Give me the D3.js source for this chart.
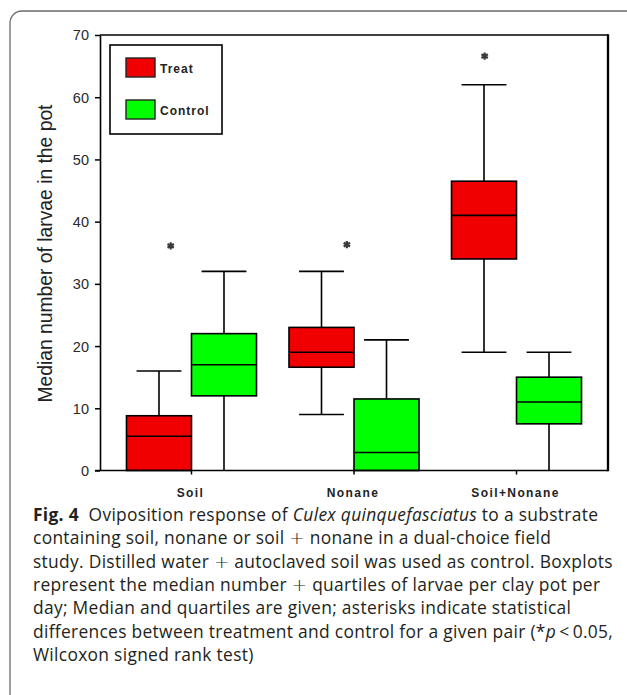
<!DOCTYPE html>
<html>
<head>
<meta charset="utf-8">
<script src="https://cdn.jsdelivr.net/npm/d3@7"></script>
<style>
  html, body { margin: 0; padding: 0; background: #fff; }
  svg { display: block; }
</style>
</head>
<body>
<svg id="chart" width="627" height="695"></svg>
<script>
// ---------- data ----------
const categories = ["Soil", "Nonane", "Soil+Nonane"];
const series = ["Treat", "Control"];
const yTicks = [0, 10, 20, 30, 40, 50, 60, 70];

const treatMin    = [0, 9, 19];
const treatQ1     = [0, 16.6, 34];
const treatMedian = [5.5, 19, 41];
const treatQ3     = [8.8, 23, 46.5];
const treatMax    = [16, 32, 62];

const controlMin    = [0, 0, 0];
const controlQ1     = [12, 0, 7.5];
const controlMedian = [17, 2.9, 11];
const controlQ3     = [22, 11.5, 15];
const controlMax    = [32, 21, 19];

const asteriskValue = [36.1, 36.3, 66.6];

const yTitle = "Median number of larvae in the pot";

// ---------- layout ----------
const W = 627, H = 695;
const plot = { left: 100, right: 608, top: 35, bottom: 470.5 };
const asteriskShift = [-0.32, -0.11, -0.49]; // in box widths from group centre
const colors = { Treat: "#f00000", Control: "#00ff00" };

const svg = d3.select("#chart");

// outer rounded frame (open at right/bottom)
svg.append("path")
  .attr("d", `M10,${H} L10,23 A12,12 0 0 1 22,11 L${W},11`)
  .attr("fill", "none").attr("stroke", "#6b6b6b").attr("stroke-width", 1.3);

const y = d3.scaleLinear().domain([0, 70]).range([plot.bottom, plot.top]);
const x = d3.scaleBand().domain(categories).range([plot.left, plot.right])
  .paddingInner(0).paddingOuter(0.063);
const xs = d3.scaleBand().domain(series).range([0, x.bandwidth()])
  .paddingInner(0).paddingOuter(0.25);
const boxW = xs.bandwidth();
const capW = boxW * 0.69;

const boxes = [];
categories.forEach((c, i) => {
  boxes.push({ cat: c, s: "Treat", min: treatMin[i], q1: treatQ1[i], med: treatMedian[i], q3: treatQ3[i], max: treatMax[i] });
  boxes.push({ cat: c, s: "Control", min: controlMin[i], q1: controlQ1[i], med: controlMedian[i], q3: controlQ3[i], max: controlMax[i] });
});

const g = svg.append("g");
const bx = g.selectAll("g.box").data(boxes).join("g").attr("class", "box")
  .attr("transform", d => `translate(${x(d.cat) + xs(d.s)},0)`);

const lineStyle = sel => sel.attr("stroke", "#000").attr("stroke-width", 1.6).attr("fill", "none");

// whiskers
bx.append("line").call(lineStyle)
  .attr("x1", boxW / 2).attr("x2", boxW / 2)
  .attr("y1", d => y(d.q3)).attr("y2", d => y(d.max));
bx.append("line").call(lineStyle)
  .attr("x1", boxW / 2).attr("x2", boxW / 2)
  .attr("y1", d => y(d.q1)).attr("y2", d => y(d.min));
// caps (upper)
bx.append("line").call(lineStyle)
  .attr("x1", boxW / 2 - capW / 2).attr("x2", boxW / 2 + capW / 2)
  .attr("y1", d => y(d.max)).attr("y2", d => y(d.max));
// caps (lower, only if above zero)
bx.filter(d => d.min > 0).append("line").call(lineStyle)
  .attr("x1", boxW / 2 - capW / 2).attr("x2", boxW / 2 + capW / 2)
  .attr("y1", d => y(d.min)).attr("y2", d => y(d.min));
// box
bx.append("rect")
  .attr("x", 0).attr("width", boxW)
  .attr("y", d => y(d.q3)).attr("height", d => y(d.q1) - y(d.q3))
  .attr("fill", d => colors[d.s]).attr("stroke", "#000").attr("stroke-width", 1.6);
// median
bx.append("line").call(lineStyle)
  .attr("x1", 0).attr("x2", boxW)
  .attr("y1", d => y(d.med)).attr("y2", d => y(d.med));

// asterisks
g.selectAll("path.ast").data(categories).join("path").attr("class", "ast")
  .attr("d", d3.symbol(d3.symbolAsterisk, 38))
  .attr("transform", (d, i) => `translate(${x(d) + x.bandwidth() / 2 + asteriskShift[i] * boxW},${y(asteriskValue[i])})`)
  .attr("fill", "none").attr("stroke", "#3a3a3a").attr("stroke-width", 2.2);

// plot frame
svg.append("line").attr("x1", plot.left).attr("x2", plot.right).attr("y1", plot.top).attr("y2", plot.top)
  .attr("stroke", "#000").attr("stroke-width", 1.5);
svg.append("line").attr("x1", plot.right).attr("x2", plot.right).attr("y1", plot.top - 0.75).attr("y2", plot.bottom + 0.75)
  .attr("stroke", "#000").attr("stroke-width", 2.3);

// left axis
const yAxis = svg.append("g").attr("transform", `translate(${plot.left},0)`)
  .call(d3.axisLeft(y).tickValues(yTicks).tickSize(5).tickSizeOuter(0).tickPadding(6));
yAxis.select(".domain").attr("stroke", "#000").attr("stroke-width", 1.6);
yAxis.selectAll(".tick line").attr("stroke", "#000").attr("stroke-width", 1.5);
yAxis.selectAll(".tick text").attr("font-family", "'Liberation Sans', Arial, sans-serif")
  .attr("font-size", 14.5).attr("fill", "#2a2a2a").attr("dy", "0.34em");

// bottom axis
const xAxis = svg.append("g").attr("transform", `translate(0,${plot.bottom})`)
  .call(d3.axisBottom(x).tickSize(4).tickSizeOuter(0).tickPadding(14));
xAxis.select(".domain").attr("stroke", "#000").attr("stroke-width", 1.6)
  .attr("d", `M${plot.left - 5},0H${plot.right}`);
xAxis.selectAll(".tick line").attr("stroke", "#000").attr("stroke-width", 1.5);
xAxis.selectAll(".tick text").attr("font-family", "'Liberation Sans', Arial, sans-serif")
  .attr("font-weight", "bold").attr("font-size", 12).attr("letter-spacing", 1.4)
  .attr("fill", "#222").attr("dx", -1);

// y title
svg.append("text")
  .attr("transform", `translate(52,${(104 + 403) / 2}) rotate(-90)`)
  .attr("text-anchor", "middle")
  .attr("font-family", "'Liberation Sans', Arial, sans-serif")
  .attr("font-size", 19.3).attr("fill", "#222")
  .text(yTitle);

// legend
const lg = svg.append("g").attr("transform", `translate(${plot.left + 10},${plot.top + 10})`);
lg.append("rect").attr("width", 112).attr("height", 89)
  .attr("fill", "#fff").attr("stroke", "#000").attr("stroke-width", 1.6);
series.forEach((s, i) => {
  const row = lg.append("g").attr("transform", `translate(16,${13 + i * 42})`);
  row.append("rect").attr("width", 29).attr("height", 19)
    .attr("fill", colors[s]).attr("stroke", "#222").attr("stroke-width", 1.4);
  row.append("text").attr("x", 34).attr("y", 15)
    .attr("font-family", "'Liberation Sans', Arial, sans-serif").attr("font-weight", "bold")
    .attr("font-size", 12).attr("letter-spacing", 1).attr("fill", "#222")
    .text(s);
});

// caption
const P = "plus";
const capLines = [
  [["Fig. 4", "b"], ["  Oviposition response of ", ""], ["Culex quinquefasciatus", "i"], [" to a substrate", ""]],
  [["containing soil, nonane or soil ", ""], ["+", P], [" nonane in a dual-choice field", ""]],
  [["study. Distilled water ", ""], ["+", P], [" autoclaved soil was used as control. Boxplots", ""]],
  [["represent the median number ", ""], ["+", P], [" quartiles of larvae per clay pot per", ""]],
  [["day; Median and quartiles are given; asterisks indicate statistical", ""]],
  [["differences between treatment and control for a given pair (*", ""], ["p", "i"], ["\u2009<\u20090.05,", ""]],
  [["Wilcoxon signed rank test)", ""]]
];
const capFont = 17.4;
const cap = svg.append("g").attr("font-family", "'Open Sans', sans-serif").attr("fill", "#231f20");
const capTexts = capLines.map((parts, i) => {
  const t = cap.append("text").attr("x", 33).attr("y", 521 + i * 23.3)
    .attr("font-size", capFont).attr("xml:space", "preserve").style("white-space", "pre");
  parts.forEach(([s, st]) => {
    const ts = t.append("tspan").text(s);
    if (st === "b") ts.attr("font-weight", "bold");
    if (st === "i") ts.attr("font-style", "italic");
    if (st === P) ts.attr("font-family", "'DejaVu Sans', sans-serif").attr("font-size", capFont * 1.05).attr("font-weight", 200);
  });
  return t;
});
// fit first line to its reference width using letter-spacing
const w0 = capTexts[0].node().getComputedTextLength();
const n0 = capLines[0].map(p => p[0]).join("").length;
const ls = (565 - w0) / (n0 - 1);
capTexts.forEach(t => t.attr("letter-spacing", ls));
</script>
</body>
</html>
